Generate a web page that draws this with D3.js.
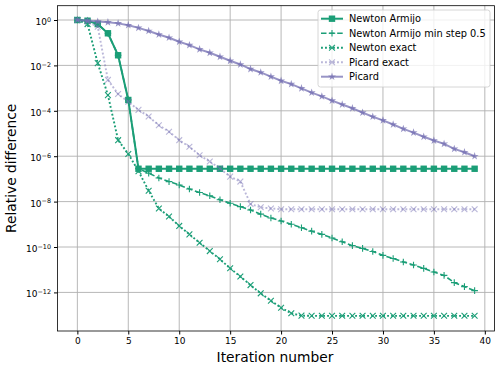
<!DOCTYPE html>
<html>
<head>
<meta charset="utf-8">
<script src="https://cdn.jsdelivr.net/npm/d3@7"></script>
<style>
  body { margin: 0; background: #fff; }
  text { font-family: "DejaVu Sans", sans-serif; fill: #000; }
</style>
</head>
<body>
<div id="chart"></div>
<script>
// iteration numbers 0..39
var iterations = d3.range(0, 40);

var newtonArmijo = [1, 0.93, 0.66, 0.26, 0.028, 3.0e-4, 2.8e-7, 2.8e-7, 2.8e-7, 2.8e-7,
  2.8e-7, 2.8e-7, 2.8e-7, 2.8e-7, 2.8e-7, 2.8e-7, 2.8e-7, 2.8e-7, 2.8e-7, 2.8e-7,
  2.8e-7, 2.8e-7, 2.8e-7, 2.8e-7, 2.8e-7, 2.8e-7, 2.8e-7, 2.8e-7, 2.8e-7, 2.8e-7,
  2.8e-7, 2.8e-7, 2.8e-7, 2.8e-7, 2.8e-7, 2.8e-7, 2.8e-7, 2.8e-7, 2.8e-7, 2.8e-7];

var newtonArmijoMin = [1, 0.93, 0.66, 0.26, 0.028, 3.0e-4, 2.8e-7, 1.8e-7, 1.1e-7, 7.6e-8,
  5.4e-8, 3.6e-8, 2.5e-8, 1.8e-8, 1.2e-8, 8.5e-9, 6.0e-9, 4.3e-9, 2.8e-9, 1.9e-9,
  1.4e-9, 1.0e-9, 7.1e-10, 5.0e-10, 3.6e-10, 2.5e-10, 1.7e-10, 1.15e-10, 8.7e-11, 6.3e-11,
  4.3e-11, 3.1e-11, 2.2e-11, 1.6e-11, 1.15e-11, 7.9e-12, 5.6e-12, 2.7e-12, 1.8e-12, 1.2e-12];

var newtonExact = [1, 0.66, 1.26e-2, 4.9e-4, 5.1e-6, 1.26e-6, 2.2e-7, 3.0e-8, 5.0e-9, 2.2e-9,
  8.5e-10, 3.6e-10, 1.55e-10, 6.6e-11, 2.9e-11, 1.15e-11, 5.0e-12, 2.1e-12, 9.1e-13, 4.3e-13,
  2.1e-13, 1.2e-13, 9.5e-14, 9.3e-14, 9.3e-14, 9.3e-14, 9.3e-14, 9.3e-14, 9.3e-14, 9.3e-14,
  9.3e-14, 9.3e-14, 9.3e-14, 9.3e-14, 9.3e-14, 9.3e-14, 9.3e-14, 9.3e-14, 9.3e-14, 9.3e-14];

var picardExact = [1, 0.85, 0.5, 2.3e-3, 5.5e-4, 2.5e-4, 1.1e-4, 5.6e-5, 2.3e-5, 1.2e-5,
  5.1e-6, 2.6e-6, 1.1e-6, 5.8e-7, 2.9e-7, 1.26e-7, 7.6e-8, 7.9e-9, 5.6e-9, 5.0e-9,
  4.6e-9, 4.6e-9, 4.6e-9, 4.6e-9, 4.6e-9, 4.6e-9, 4.6e-9, 4.6e-9, 4.6e-9, 4.6e-9,
  4.6e-9, 4.6e-9, 4.6e-9, 4.6e-9, 4.6e-9, 4.6e-9, 4.6e-9, 4.6e-9, 4.6e-9, 4.6e-9];

var picard = [1, 0.93, 0.85, 0.79, 0.71, 0.59, 0.45, 0.33, 0.23, 0.166,
  0.11, 7.8e-2, 5.1e-2, 3.6e-2, 2.4e-2, 1.6e-2, 1.1e-2, 6.9e-3, 4.9e-3, 3.2e-3,
  2.1e-3, 1.5e-3, 9.8e-4, 6.3e-4, 4.3e-4, 2.8e-4, 1.9e-4, 1.3e-4, 8.3e-5, 5.5e-5,
  3.8e-5, 2.5e-5, 1.6e-5, 1.1e-5, 7.2e-6, 4.9e-6, 3.5e-6, 2.1e-6, 1.5e-6, 1.0e-6];

var seriesNames = ["Newton Armijo", "Newton Armijo min step 0.5", "Newton exact", "Picard exact", "Picard"];
var xTicks = [0, 5, 10, 15, 20, 25, 30, 35, 40];
var yTickExps = [0, -2, -4, -6, -8, -10, -12];

var svgWidth = 500;
var svgHeight = 366;
var margin = { top: 5.7, right: 5.5, bottom: 35, left: 57.5 };
var width = svgWidth - margin.left - margin.right;
var height = svgHeight - margin.top - margin.bottom;

var green = "#1b9e77";
var purple = "#7570b3";

// series styling
var styles = [
  { data: newtonArmijo, color: green, alpha: 1, lw: 2, dash: null, marker: "square" },
  { data: newtonArmijoMin, color: green, alpha: 1, lw: 1.6, dash: "5.5,2.6", marker: "plus" },
  { data: newtonExact, color: green, alpha: 1, lw: 1.9, dash: "1.9,2.1", marker: "x" },
  { data: picardExact, color: purple, alpha: 0.5, lw: 1.9, dash: "1.9,2.1", marker: "x" },
  { data: picard, color: purple, alpha: 0.75, lw: 2, dash: null, marker: "star" }
];

var svg = d3.select("#chart")
  .append("svg")
  .attr("width", svgWidth)
  .attr("height", svgHeight);

var chartGroup = svg.append("g")
  .attr("transform", `translate(${margin.left}, ${margin.top})`);

var xScale = d3.scaleLinear()
  .domain([-1.95, 40.95])
  .range([0, width]);

var yScale = d3.scaleLog()
  .domain([Math.pow(10, -13.7), Math.pow(10, 0.63)])
  .range([height, 0]);

// grid
chartGroup.append("g")
  .selectAll("line")
  .data(xTicks)
  .enter()
  .append("line")
  .attr("x1", d => xScale(d)).attr("x2", d => xScale(d))
  .attr("y1", 0).attr("y2", height)
  .attr("stroke", "#b0b0b0").attr("stroke-width", 0.9);

chartGroup.append("g")
  .selectAll("line")
  .data(yTickExps)
  .enter()
  .append("line")
  .attr("x1", 0).attr("x2", width)
  .attr("y1", d => yScale(Math.pow(10, d))).attr("y2", d => yScale(Math.pow(10, d)))
  .attr("stroke", "#b0b0b0").attr("stroke-width", 0.9);

// axes
var bottomAxis = d3.axisBottom(xScale).tickValues(xTicks).tickSize(3.5).tickPadding(3);
var xAxisG = chartGroup.append("g")
  .attr("transform", `translate(0, ${height})`)
  .call(bottomAxis);
xAxisG.select(".domain").remove();
xAxisG.selectAll("text").attr("font-size", "9px").attr("font-family", "DejaVu Sans");

var leftAxis = d3.axisLeft(yScale)
  .tickValues(yTickExps.map(e => Math.pow(10, e)))
  .tickSize(3.5).tickPadding(3)
  .tickFormat("");
var yAxisG = chartGroup.append("g").call(leftAxis);
yAxisG.select(".domain").remove();

// superscript tick labels
yAxisG.selectAll(".tick")
  .append("text")
  .attr("x", -6.5)
  .attr("dy", "0.5em")
  .attr("text-anchor", "end")
  .attr("font-size", "9px")
  .each(function(d) {
    var e = Math.round(Math.log10(d));
    var t = d3.select(this);
    t.append("tspan").text("10");
    t.append("tspan")
      .attr("dy", "-0.5em")
      .attr("font-size", "6.4px")
      .text(e === 0 ? "0" : "\u2212" + Math.abs(e));
  });

// frame
chartGroup.append("rect")
  .attr("width", width).attr("height", height)
  .attr("fill", "none").attr("stroke", "#000").attr("stroke-width", 0.8);

// marker shapes
function drawMarker(g, kind, x, y, color, alpha) {
  if (kind === "square") {
    g.append("rect").attr("x", x - 3.2).attr("y", y - 3.2).attr("width", 6.4).attr("height", 6.4)
      .attr("fill", color).attr("fill-opacity", alpha);
  } else if (kind === "plus") {
    g.append("path").attr("d", `M${x - 3.3},${y}H${x + 3.3}M${x},${y - 3.3}V${y + 3.3}`)
      .attr("stroke", color).attr("stroke-width", 1.1).attr("stroke-opacity", alpha);
  } else if (kind === "x") {
    g.append("path").attr("d", `M${x - 2.9},${y - 2.9}L${x + 2.9},${y + 2.9}M${x - 2.9},${y + 2.9}L${x + 2.9},${y - 2.9}`)
      .attr("stroke", color).attr("stroke-width", 1.1).attr("stroke-opacity", alpha);
  } else if (kind === "star") {
    g.append("path").attr("d", d3.symbol().type(d3.symbolStar).size(20)())
      .attr("transform", `translate(${x},${y})`)
      .attr("fill", color).attr("fill-opacity", alpha);
  }
}

var lineGen = d3.line()
  .x((d, i) => xScale(iterations[i]))
  .y(d => yScale(d));

var plotGroup = chartGroup.append("g");

styles.forEach(function(s) {
  var g = plotGroup.append("g");
  g.append("path")
    .datum(s.data)
    .attr("d", lineGen)
    .attr("fill", "none")
    .attr("stroke", s.color)
    .attr("stroke-opacity", s.alpha)
    .attr("stroke-width", s.lw)
    .attr("stroke-dasharray", s.dash);
  s.data.forEach(function(v, i) {
    drawMarker(g, s.marker, xScale(iterations[i]), yScale(v), s.color, s.alpha);
  });
});

// legend
var legend = svg.append("g").attr("transform", "translate(318, 10)");
legend.append("rect")
  .attr("width", 172).attr("height", 77).attr("rx", 2.5)
  .attr("fill", "#fff").attr("fill-opacity", 0.8)
  .attr("stroke", "#cccccc").attr("stroke-width", 0.8);

seriesNames.forEach(function(name, i) {
  var s = styles[i];
  var y = 8.7 + i * 14.5;
  var row = legend.append("g");
  row.append("line")
    .attr("x1", 3).attr("x2", 25).attr("y1", y).attr("y2", y)
    .attr("stroke", s.color).attr("stroke-opacity", s.alpha)
    .attr("stroke-width", s.lw).attr("stroke-dasharray", s.dash);
  drawMarker(row, s.marker, 14, y, s.color, s.alpha);
  row.append("text")
    .attr("x", 31).attr("y", y).attr("dy", "0.36em")
    .attr("font-size", "9.8px")
    .text(name);
});

// axis labels
svg.append("text")
  .attr("x", margin.left + width / 2 - 1)
  .attr("y", 362)
  .attr("text-anchor", "middle")
  .attr("font-size", "13.8px")
  .text("Iteration number");

svg.append("text")
  .attr("transform", `translate(16, ${margin.top + height / 2}) rotate(-90)`)
  .attr("text-anchor", "middle")
  .attr("font-size", "13.8px")
  .text("Relative difference");
</script>
</body>
</html>
